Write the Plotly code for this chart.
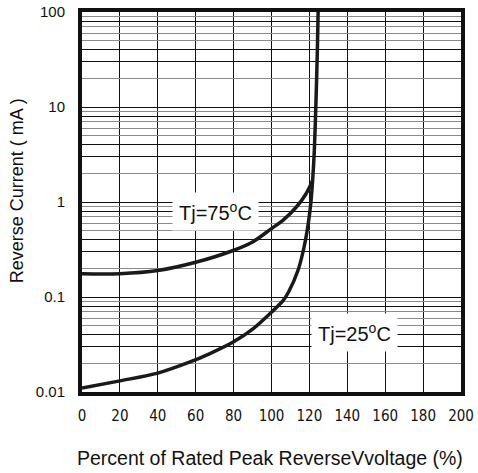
import math
import plotly.graph_objects as go

# Data
x_75 = [0, 20, 40, 60, 79, 90, 100, 106, 113, 118, 121.7]
y_75 = [0.176, 0.176, 0.19, 0.232, 0.305, 0.38, 0.525, 0.64, 0.88, 1.2, 1.69]

x_25 = [0, 20, 40, 57, 67.5, 79.8, 90.4, 100.1, 106.2, 109, 114, 117.2, 119.4, 120.8,
        121.7, 122.6, 123.5, 124.2, 124.6]
y_25 = [0.011, 0.0131, 0.0158, 0.0207, 0.0254, 0.0336, 0.0465, 0.0695, 0.0923, 0.113,
        0.191, 0.336, 0.593, 1.0, 1.69, 3.5, 11.8, 39.5, 100]

x_ticks = [0, 20, 40, 60, 80, 100, 120, 140, 160, 180, 200]
y_major = [0.01, 0.1, 1, 10, 100]
y_major_labels = ["0.01", "0.1", "1", "10", "100"]
dark_mult = [3, 4, 8]
gray_mult = [2, 5, 6, 7, 9]

label_75 = ("Tj=75<sup>o</sup>C", 70.2, 0.789)
label_25 = ("Tj=25<sup>o</sup>C", 144.0, 0.0425)

x_title = "Percent of Rated Peak ReverseVvoltage (%)"
y_title = "Reverse Current ( mA )"

dark_vals = [d * m for d in y_major[:-1] for m in dark_mult]
gray_vals = [d * m for d in y_major[:-1] for m in gray_mult]

FONT = "Liberation Sans, Arial, sans-serif"
NARROW = "Liberation Sans Narrow, Arial Narrow, DejaVu Sans Condensed, Liberation Sans"
line_col = "#1a1a1a"

fig = go.Figure()
fig.add_trace(go.Scatter(x=x_75, y=y_75, mode="lines",
                         line=dict(color=line_col, width=3.5, shape="spline", smoothing=1),
                         showlegend=False, hoverinfo="skip"))
# drawn on the overlaid (identical) log axis that carries the gray minor grid
fig.add_trace(go.Scatter(x=x_25, y=y_25, mode="lines", yaxis="y2",
                         line=dict(color=line_col, width=3.5, shape="spline", smoothing=0.8),
                         showlegend=False, hoverinfo="skip"))

for text, xv, yv in (label_75, label_25):
    fig.add_annotation(x=xv, y=math.log10(yv), xref="x", yref="y", text=text,
                       showarrow=False, bgcolor="white", borderpad=6,
                       font=dict(family=FONT, size=20, color="#111"))

# axis titles placed in paper coordinates
fig.add_annotation(x=0.496, y=-0.174, xref="paper", yref="paper", text=x_title,
                   showarrow=False, xanchor="center", yanchor="middle",
                   font=dict(family=FONT, size=19.5, color="#111"))
fig.add_annotation(x=-0.1715, y=0.528, xref="paper", yref="paper", text=y_title,
                   showarrow=False, xanchor="center", yanchor="middle", textangle=-90,
                   font=dict(family=FONT, size=18, color="#111"))

fig.update_layout(
    width=478, height=473,
    margin=dict(l=82, r=17, t=12, b=81, autoexpand=False),
    paper_bgcolor="white", plot_bgcolor="white",
    font=dict(family=FONT, color="#111"),
    xaxis=dict(
        range=[0, 200], tickmode="array", tickvals=x_ticks,
        ticktext=[str(v) for v in x_ticks],
        tickfont=dict(family=NARROW, size=15),
        ticks="", ticklabelstandoff=7, automargin=False,
        showgrid=True, gridcolor="#111", gridwidth=1,
        showline=True, linecolor="#111", linewidth=4, mirror=True,
        zeroline=False,
    ),
    yaxis=dict(
        type="log", range=[-2, 2], tickmode="array",
        tickvals=y_major, ticktext=y_major_labels,
        tickfont=dict(family=FONT, size=15),
        ticks="", ticklabelstandoff=10, automargin=False,
        showgrid=True, gridcolor="#111", gridwidth=1,
        minor=dict(tickmode="array", tickvals=dark_vals, showgrid=True,
                   gridcolor="#111", gridwidth=1, ticks=""),
        showline=True, linecolor="#111", linewidth=4, mirror=True,
        zeroline=False,
    ),
    yaxis2=dict(
        type="log", range=[-2, 2], overlaying="y", tickmode="array",
        tickvals=gray_vals, showticklabels=False, ticks="",
        showgrid=True, gridcolor="#8a8a8a", gridwidth=1.3,
        showline=False, zeroline=False, automargin=False,
    ),
)

fig.write_html("out.html", post_script="document.body.style.margin='0';",
               config={"displayModeBar": False})
